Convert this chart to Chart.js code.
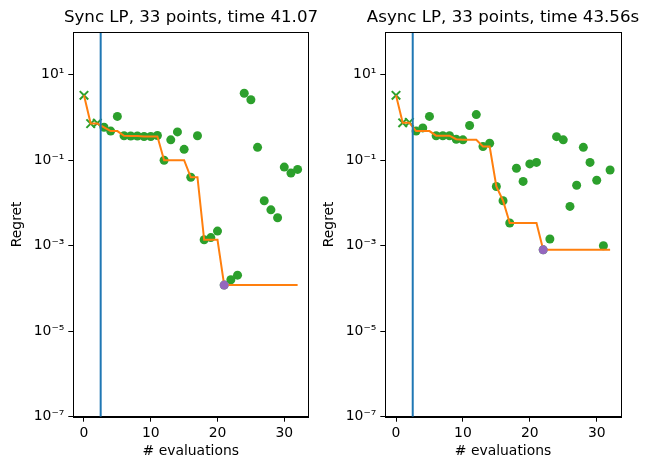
<!DOCTYPE html>
<html>
<head>
<meta charset="utf-8">
<script src="https://cdn.jsdelivr.net/npm/chart.js@4/dist/chart.umd.min.js"></script>
<style>
html, body { margin: 0; padding: 0; background: #fff; overflow: hidden; }
#wrap { position: relative; width: 648px; height: 470px; overflow: hidden; }
canvas { position: absolute; top: 0; }
</style>
</head>
<body>
<div id="wrap">
  <canvas id="syncChart" width="382" height="470" style="left:0;width:382px;height:470px"></canvas>
  <canvas id="asyncChart" width="382" height="470" style="left:312px;width:382px;height:470px"></canvas>
</div>
<script>
// evaluation index (x) for both runs
const evals = [0, 1, 2, 3, 4, 5, 6, 7, 8, 9, 10, 11, 12, 13, 14, 15, 16,
               17, 18, 19, 20, 21, 22, 23, 24, 25, 26, 27, 28, 29, 30, 31, 32];
const nInit = 3;          // first points are the initial design (x markers)
const initBoundary = 2.5; // vertical line

// Sync LP
const syncRegret = [3.3, 0.72, 0.74, 0.59, 0.48, 1.06, 0.375, 0.37, 0.37, 0.36, 0.36, 0.38,
                    0.10, 0.30, 0.46, 0.18, 0.04, 0.375, 1.38e-3, 1.55e-3, 2.2e-3, 1.2e-4,
                    1.6e-4, 2.05e-4, 3.7, 2.6, 0.2, 0.0113, 0.0069, 0.0045, 0.069, 0.050, 0.061];
const syncBest = [3.3, 0.72, 0.72, 0.59, 0.48, 0.48, 0.375, 0.37, 0.37, 0.36, 0.36, 0.36,
                  0.10, 0.10, 0.10, 0.10, 0.04, 0.04, 1.38e-3, 1.38e-3, 1.38e-3, 1.2e-4,
                  1.2e-4, 1.2e-4, 1.2e-4, 1.2e-4, 1.2e-4, 1.2e-4, 1.2e-4, 1.2e-4, 1.2e-4, 1.2e-4, 1.2e-4];
const syncBestIdx = 21;

// Async LP
const asyncRegret = [3.3, 0.75, 0.77, 0.48, 0.57, 1.06, 0.375, 0.375, 0.375, 0.31, 0.30, 0.65,
                     1.17, 0.21, 0.25, 0.0243, 0.0113, 3.4e-3, 0.065, 0.032, 0.082, 0.089,
                     8e-4, 1.44e-3, 0.356, 0.30, 8.3e-3, 0.026, 0.2, 0.089, 0.034, 1.0e-3, 0.059];
const asyncBest = [3.3, 0.75, 0.75, 0.48, 0.48, 0.48, 0.375, 0.375, 0.375, 0.31, 0.30, 0.30,
                   0.30, 0.21, 0.21, 0.0243, 0.0113, 3.4e-3, 3.4e-3, 3.4e-3, 3.4e-3, 3.4e-3,
                   8e-4, 8e-4, 8e-4, 8e-4, 8e-4, 8e-4, 8e-4, 8e-4, 8e-4, 8e-4, 8e-4];
const asyncBestIdx = 22;

const xTicks = [0, 10, 20, 30];
const yTicks = [1e-7, 1e-5, 1e-3, 1e-1, 1e1];
const yTickLabels = ['10\u207B\u2077', '10\u207B\u2075', '10\u207B\u00B3', '10\u207B\u00B9', '10\u00B9'];

const FONT = 'DejaVu Sans';

const boxPlugin = {
    id: 'box',
    afterDatasetsDraw(chart) {
        const a = chart.chartArea, c = chart.ctx;
        c.save();
        c.strokeStyle = '#000';
        c.lineWidth = 1;
        c.strokeRect(Math.round(a.left) + 0.5, Math.round(a.top) + 0.5,
                     Math.round(a.right - a.left), Math.round(a.bottom - a.top));
        c.restore();
    }
};

function makeChart(id, title, regret, best, bestIdx, plotWidth) {
    const pts = (arr, from, to) => evals.slice(from, to).map(i => ({ x: i, y: arr[i] }));
    const yAxisW = 73.3;
    // blank right axis, same width as the left one, so the title sits over the plot
    const spacerW = 382 - yAxisW - plotWidth;
    new Chart(document.getElementById(id), {
        type: 'scatter',
        data: {
            datasets: [
                {   // best point found
                    data: [{ x: evals[bestIdx], y: regret[bestIdx] }],
                    backgroundColor: '#9467bd', borderColor: '#9467bd',
                    pointRadius: 4.5, borderWidth: 0
                },
                {
                    type: 'line',
                    data: [{ x: initBoundary, y: 1e-7 }, { x: initBoundary, y: 100 }],
                    borderColor: '#1f77b4', borderWidth: 2, pointRadius: 0
                },
                {
                    type: 'line',
                    data: pts(best, 0, evals.length),
                    borderColor: '#ff7f0e', borderWidth: 2, pointRadius: 0, tension: 0
                },
                {
                    data: pts(regret, nInit, evals.length),
                    backgroundColor: '#2ca02c', borderColor: '#2ca02c',
                    pointRadius: 4.5, borderWidth: 0
                },
                {
                    data: pts(regret, 0, nInit),
                    pointStyle: 'crossRot', borderColor: '#2ca02c',
                    pointRadius: 6, borderWidth: 2
                }
            ]
        },
        options: {
            responsive: false,
            animation: false,
            layout: { padding: 0 },
            plugins: {
                legend: { display: false },
                tooltip: { enabled: false },
                title: {
                    display: true, text: title, color: '#000',
                    font: { family: FONT, size: 16.67, weight: 'normal' },
                    padding: { top: 8, bottom: 4 }
                }
            },
            scales: {
                x: {
                    type: 'linear', min: -1.6, max: 33.6,
                    afterBuildTicks: s => { s.ticks = xTicks.map(v => ({ value: v })); },
                    afterFit: s => { s.height = 53.3; },
                    grid: { drawOnChartArea: false, drawTicks: true, tickLength: 5, color: '#000', tickColor: '#000' },
                    border: { display: true, color: '#000' },
                    ticks: { color: '#000', padding: 3, maxRotation: 0, font: { family: FONT, size: 13.9 } },
                    title: {
                        display: true, text: '# evaluations', color: '#000',
                        font: { family: FONT, size: 13.9 }, padding: { top: 2, bottom: 10 }
                    }
                },
                y: {
                    type: 'logarithmic', min: 1e-7, max: 100,
                    afterBuildTicks: s => { s.ticks = yTicks.map(v => ({ value: v })); },
                    afterFit: s => { s.width = yAxisW; },
                    grid: { drawOnChartArea: false, drawTicks: true, tickLength: 5, color: '#000', tickColor: '#000' },
                    border: { display: true, color: '#000' },
                    ticks: {
                        color: '#000', padding: 4, font: { family: FONT, size: 13.9 },
                        callback: v => {
                            const k = yTicks.findIndex(t => Math.abs(Math.log10(t) - Math.log10(v)) < 1e-6);
                            return k >= 0 ? yTickLabels[k] : '';
                        }
                    },
                    title: {
                        display: true, text: 'Regret', color: '#000',
                        font: { family: FONT, size: 13.9 }, padding: { top: 9, bottom: 0 }
                    }
                },
                spacer: {
                    type: 'linear', position: 'right', axis: 'y',
                    afterFit: s => { s.width = spacerW; },
                    grid: { display: false },
                    border: { display: false },
                    ticks: { display: false }
                }
            }
        },
        plugins: [boxPlugin]
    });
}

makeChart('syncChart', 'Sync LP, 33 points, time 41.07', syncRegret, syncBest, syncBestIdx, 235);
makeChart('asyncChart', 'Async LP, 33 points, time 43.56s', asyncRegret, asyncBest, asyncBestIdx, 235.5);
</script>
</body>
</html>
